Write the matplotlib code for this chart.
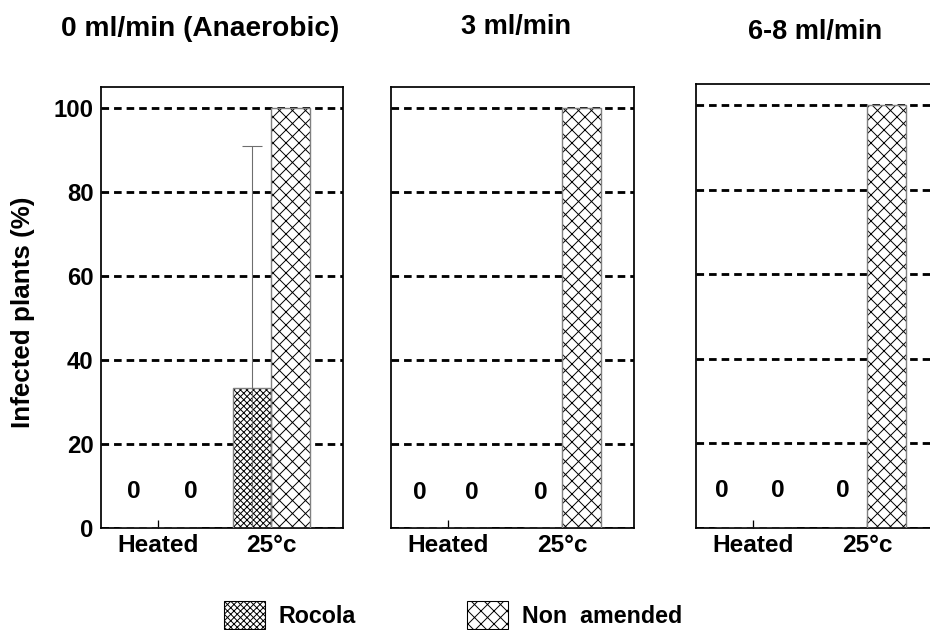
import numpy as np
import matplotlib
matplotlib.use("Agg")
import matplotlib.pyplot as plt
from matplotlib.patches import Patch

# ---- data -------------------------------------------------------------
panel_titles = ["0 ml/min (Anaerobic)", "3 ml/min", "6-8 ml/min"]
categories = ["Heated", "25°c"]
series_names = ["Rocola", "Non  amended"]
rocola = [[0, 33.3], [0, 0], [0, 0]]
rocola_err = [[0, 57.7], [0, 0], [0, 0]]
non_amended = [[0, 100], [0, 100], [0, 100]]
y_ticks = [0, 20, 40, 60, 80, 100]

# ---- layout (pixels on a 930x630 canvas) ------------------------------
W, H, DPI = 930, 630, 78
plt.rcParams["font.family"] = ["Liberation Sans", "DejaVu Sans"]
plt.rcParams["font.weight"] = "bold"
plt.rcParams["hatch.linewidth"] = 0.9
plt.rcParams["lines.scale_dashes"] = False

fig = plt.figure(figsize=(W / DPI, H / DPI), dpi=DPI)


def rect(left, right, top, bottom):
    return [left / W, 1 - bottom / H, (right - left) / W, (bottom - top) / H]


axes_px = [(101, 343, 87, 528), (391, 634, 87, 528), (696, 939, 84, 528)]
title_px = [(200, 29), (516, 27), (815, 32)]
# x positions (data units) of the "0" value labels in each panel
zero_label_x = [[-0.21, 0.29, None], [-0.25, 0.21, 0.81], [-0.27, 0.22, 0.79]]
zero_label_y = [8.8, 8.5, 8.8]

hatch_rocola = "xxxx"
hatch_non = "xx"

x = np.arange(len(categories))
width = 0.342
grey = "#808080"

for i, (l, r, t, b) in enumerate(axes_px):
    ax = fig.add_axes(rect(l, r, t, b))
    ax.set_xlim(-0.5, 1.63)
    ax.set_ylim(0, 105)
    ax.set_axisbelow(True)
    ax.yaxis.grid(True, color="black", linewidth=2.6, linestyle=(0, (7.0, 4.6)))

    xr = x - width / 2
    xn = x + width / 2
    # hatched fills
    ax.bar(xr, rocola[i], width, color="white", edgecolor="black",
           hatch=hatch_rocola, linewidth=0, zorder=2)
    ax.bar(xn, non_amended[i], width, color="white", edgecolor="black",
           hatch=hatch_non, linewidth=0, zorder=2)
    # grey outlines
    ax.bar(xr, rocola[i], width, fill=False, edgecolor=grey, linewidth=1.3, zorder=3)
    ax.bar(xn, non_amended[i], width, fill=False, edgecolor=grey, linewidth=1.3, zorder=3)

    for j in range(len(categories)):
        if rocola_err[i][j] > 0:
            ax.errorbar(xr[j], rocola[i][j], yerr=rocola_err[i][j], fmt="none",
                        ecolor="#6e6e6e", elinewidth=1.0, capsize=9.5,
                        capthick=1.0, zorder=4)

    # "0" value labels for empty bars
    zero_vals = [rocola[i][0], non_amended[i][0], rocola[i][1]]
    for xl, v in zip(zero_label_x[i], zero_vals):
        if xl is not None and v == 0:
            ax.text(xl, zero_label_y[i], f"{v:g}", ha="center", va="center",
                    fontsize=22.5, fontweight="bold")

    for s in ax.spines.values():
        s.set_linewidth(1.6)
        s.set_color("black")

    ax.set_xticks(x)
    ax.set_xticklabels(categories, fontsize=22.5, fontweight="bold")
    ax.tick_params(axis="x", direction="in", length=7.5, width=1.2, pad=6)
    ax.set_yticks(y_ticks)
    if i == 0:
        ax.set_yticklabels([str(v) for v in y_ticks], fontsize=22, fontweight="bold")
        ax.tick_params(axis="y", length=0, pad=7)
    else:
        ax.tick_params(axis="y", length=0, labelleft=False)

    tx, ty = title_px[i]
    fs_title = 26 if i == 0 else 25
    fig.text(tx / W, 1 - ty / H, panel_titles[i], ha="center", va="center",
             fontsize=fs_title, fontweight="bold")

fig.text(23 / W, 1 - 312 / H, "Infected plants (%)", rotation=90,
         ha="center", va="center", fontsize=24, fontweight="bold")

handles = [Patch(facecolor="white", edgecolor="black", hatch=hatch_rocola, linewidth=1.0),
           Patch(facecolor="white", edgecolor="black", hatch=hatch_non, linewidth=1.0)]
fs = 21.5
px_per_fs = fs * DPI / 72
fig.legend(handles, series_names, loc="lower left",
           bbox_to_anchor=(224 / W, 1 / H), ncol=2, frameon=False,
           prop={"weight": "bold", "size": fs},
           handlelength=41 / px_per_fs, handleheight=34 / px_per_fs,
           handletextpad=14 / px_per_fs, columnspacing=111 / px_per_fs,
           borderpad=0, borderaxespad=0)

fig.savefig("out.png", dpi=DPI)
